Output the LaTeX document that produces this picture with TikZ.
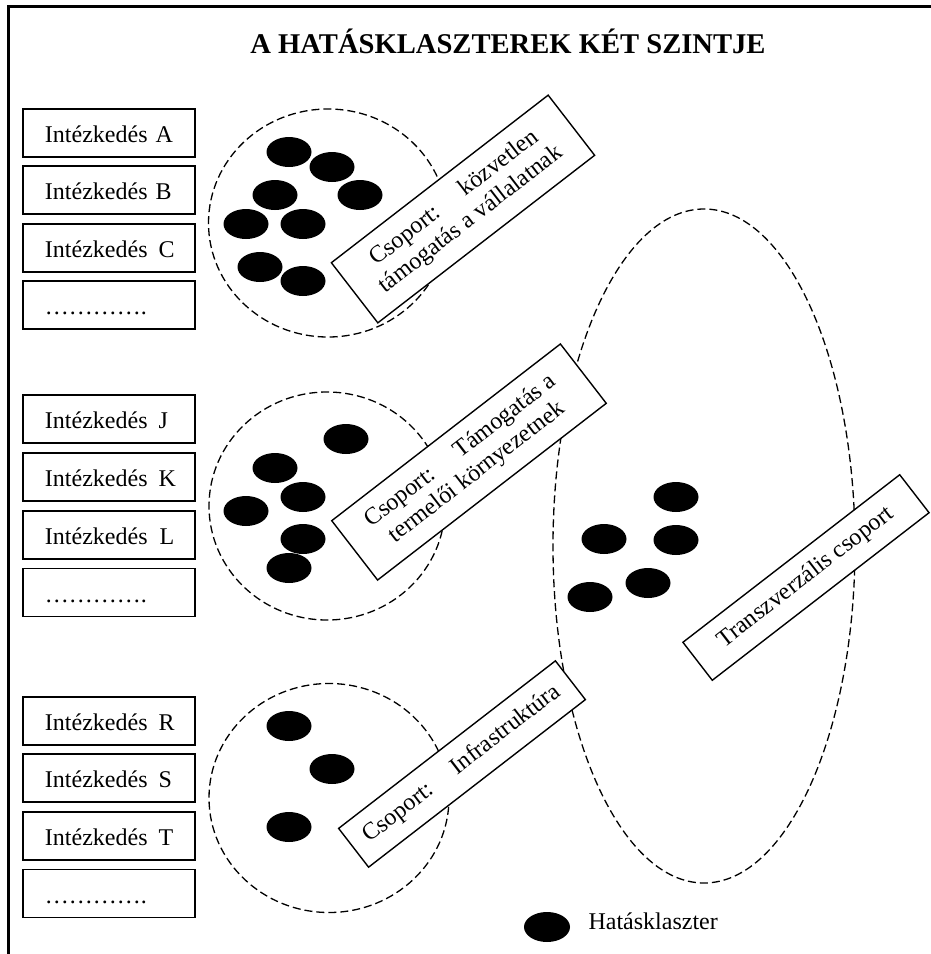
\documentclass[tikz,border=0pt]{standalone}
\usepackage{fontspec}
\setmainfont{Liberation Serif}
\usetikzlibrary{shapes.geometric}

\begin{document}
\begin{tikzpicture}[x=1pt,y=-1pt,
  txt/.style={font=\fontsize{24}{27}\selectfont},
  mbox/.style={txt, draw, line width=1.4pt, minimum width=172pt, minimum height=48pt,
    text width=128pt, inner xsep=22pt, inner ysep=0pt, align=left,
    text height=19pt, text depth=0pt},
  zone/.style={draw, ellipse, dash pattern=on 8pt off 4pt, line width=1.3pt, inner sep=0pt},
  blob/.style={ellipse, fill=black, minimum width=45pt, minimum height=30pt, inner sep=0pt},
  tag/.style={txt, draw, fill=white, line width=1.4pt, rotate=37.7, align=center,
    inner sep=2pt, minimum width=274pt}
]
\useasboundingbox (0,0) rectangle (931,954);

% frame lines
\draw[line width=3pt] (931,6) -- (8,6) -- (8,954);

% title
\node[font=\fontsize{28.6}{32}\selectfont\bfseries, anchor=base] (title) at (508,53)
  {A HATÁSKLASZTEREK KÉT SZINTJE};

% measures, first group
\node[mbox] (mA) at (109,133) {\mbox{Intézkedés A}};
\node[mbox] (mB) at (109,190) {\mbox{Intézkedés B}};
\node[mbox] (mC) at (109,248) {\mbox{Intézkedés\ \hspace{3pt}C}};
\node[mbox] (m1) at (109,305) {\mbox{………….}};
% second group
\node[mbox] (mJ) at (109,419) {\mbox{Intézkedés\ \hspace{3pt}J}};
\node[mbox] (mK) at (109,477) {\mbox{Intézkedés\ \hspace{3pt}K}};
\node[mbox] (mL) at (109,535) {\mbox{Intézkedés\ \hspace{4pt}L}};
\node[mbox] (m2) at (109,592.5) {\mbox{………….}};
% third group
\node[mbox] (mR) at (109,721) {\mbox{Intézkedés\ \hspace{3pt}R}};
\node[mbox] (mS) at (109,778) {\mbox{Intézkedés\ \hspace{3pt}S}};
\node[mbox] (mT) at (109,836) {\mbox{Intézkedés\ \hspace{3pt}T}};
\node[mbox] (m3) at (109,893.5) {\mbox{………….}};

% dashed group outlines
\node[zone, minimum width=239pt, minimum height=228pt] (z1) at (328,223) {};
\node[zone, minimum width=236pt, minimum height=228pt] (z2) at (327,506) {};
\node[zone, minimum width=240pt, minimum height=229pt] (z3) at (329,798) {};
\node[zone, minimum width=302pt, minimum height=674pt] (z4) at (704,546) {};

% impact clusters, group 1
\node[blob] (a1) at (289,152) {};
\node[blob] (a2) at (332,167) {};
\node[blob] (a3) at (275,195) {};
\node[blob] (a4) at (360,195) {};
\node[blob] (a5) at (246,224) {};
\node[blob] (a6) at (303,224) {};
\node[blob] (a7) at (260,267) {};
\node[blob] (a8) at (303,281) {};
% group 2
\node[blob] (b1) at (346,439) {};
\node[blob] (b2) at (275,468) {};
\node[blob] (b3) at (303,497) {};
\node[blob] (b4) at (246,511) {};
\node[blob] (b5) at (303,539) {};
\node[blob] (b6) at (289,568) {};
% group 3
\node[blob] (c1) at (289,726) {};
\node[blob] (c2) at (332,769) {};
\node[blob] (c3) at (289,827) {};
% transversal group
\node[blob] (d1) at (676,497) {};
\node[blob] (d2) at (604,539) {};
\node[blob] (d3) at (676,540) {};
\node[blob] (d4) at (648,583) {};
\node[blob] (d5) at (590,597) {};

% group labels
\node[tag, minimum height=76pt] (t1) at (463,209)
  {Csoport:\hspace{30pt}közvetlen\\támogatás a vállalatnak};
\node[tag, minimum width=289pt, minimum height=75pt] (t2) at (469,462)
  {Csoport:\hspace{30pt}Támogatás a\\termelői környezetnek};
\node[tag, minimum height=49pt] (t3) at (462,764)
  {Csoport:\hspace{28pt}Infrastruktúra};
\node[tag, minimum height=48pt] (t4) at (806,577.5)
  {Transzverzális csoport};

% legend
\node[blob, minimum width=46pt] (key) at (547,927) {};
\node[txt, anchor=base west] (keytxt) at (585,929) {Hatásklaszter};
\end{tikzpicture}
\end{document}
